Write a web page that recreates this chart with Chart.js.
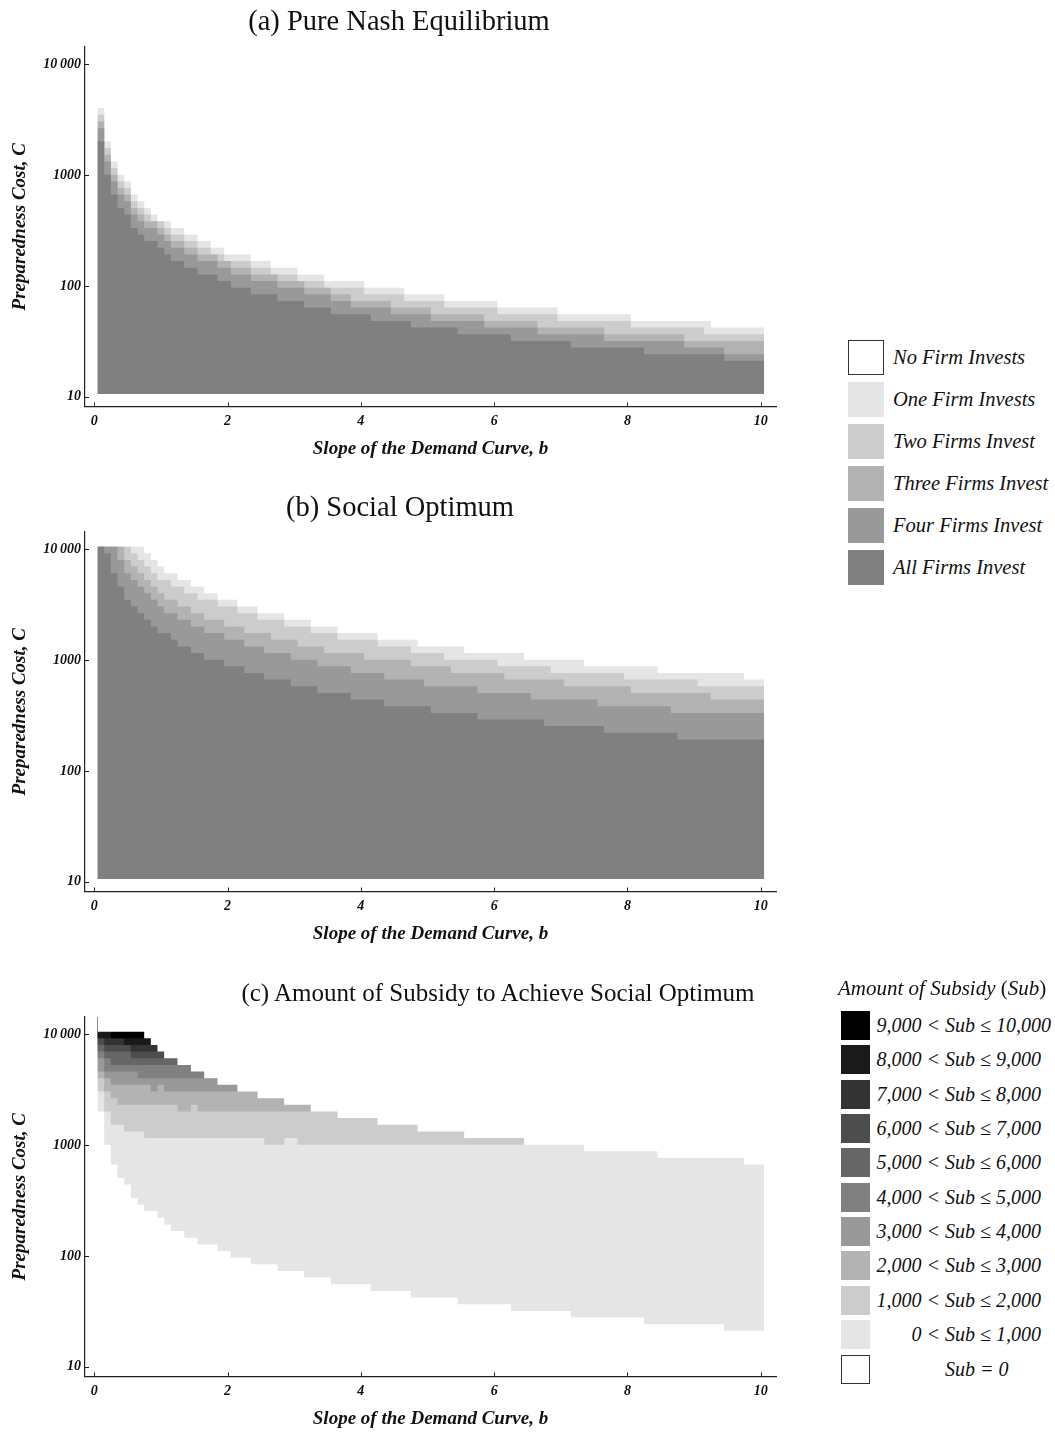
<!DOCTYPE html>
<html>
<head>
<meta charset="utf-8">
<title>Preparedness regions</title>
<script src="https://cdn.jsdelivr.net/npm/chart.js@4"></script>
<style>
  body { margin:0; padding:0; background:#fff; font-family:"Liberation Serif", serif; color:#111; }
  .page { position:relative; width:1055px; height:1433px; overflow:hidden; }
  canvas { position:absolute; left:0; }
  .title { position:absolute; white-space:nowrap; transform:translate(-50%, -50%); }
  .row { position:absolute; display:flex; align-items:center; white-space:nowrap; font-style:italic; }
  .sw { box-sizing:border-box; flex:none; }
  .up { font-style:normal; }
</style>
</head>
<body>
<div class="page" id="page">
  <canvas id="chartA" width="800" height="470" style="top:0px"></canvas>
  <canvas id="chartB" width="800" height="470" style="top:485px"></canvas>
  <canvas id="chartC" width="800" height="470" style="top:970px"></canvas>
  <div class="title" style="left:399px;top:21px;font-size:28.5px">(a) Pure Nash Equilibrium</div>
  <div class="title" style="left:400px;top:507px;font-size:28.5px">(b) Social Optimum</div>
  <div class="title" style="left:498px;top:993px;font-size:25px">(c) Amount of Subsidy to Achieve Social Optimum</div>
</div>
<script>
// axis ticks
const bTicks = [0, 2, 4, 6, 8, 10];
const cTicks = [10, 100, 1000, 10000];
const cTickLabels = ['10', '100', '1000', '10\u2009000'];
const bLast = 10;      // last slope value on the grid
const cFloor = 10.57;  // lowest preparedness cost on the grid

// legend categories
const firmLabels = ['No Firm Invests', 'One Firm Invests', 'Two Firms Invest',
  'Three Firms Invest', 'Four Firms Invest', 'All Firms Invest'];
const firmColors = ['#ffffff', '#e5e5e5', '#cccccc', '#b3b3b3', '#999999', '#808080'];
const subBins = [['9,000', '10,000'], ['8,000', '9,000'], ['7,000', '8,000'], ['6,000', '7,000'],
  ['5,000', '6,000'], ['4,000', '5,000'], ['3,000', '4,000'], ['2,000', '3,000'],
  ['1,000', '2,000'], ['0', '1,000']];
const subColors = ['#000000', '#1a1a1a', '#333333', '#4d4d4d', '#666666', '#808080',
  '#999999', '#b3b3b3', '#cccccc', '#e5e5e5'];

// upper edge of each region, as [b where the step starts, C]
// (a) pure Nash equilibrium
const nashAll = [[0.1,2014],[0.2,1009],[0.3,667],[0.4,506],[0.5,441],[0.6,334],[0.7,291],[0.8,254],[1.0,221],[1.1,192],[1.2,168],[1.4,146],[1.6,127],[1.9,111],[2.1,96.4],[2.4,84],[2.8,73.1],[3.2,63.7],[3.6,55.5],[4.2,48.3],[4.8,42.1],[5.5,36.6],[6.3,31.9],[7.2,27.8],[8.3,24.2],[9.5,21.1]];
const nashFour = [[0.1,2655],[0.2,1330],[0.3,879],[0.4,667],[0.5,581],[0.6,441],[0.7,384],[0.8,334],[1.0,291],[1.1,254],[1.2,221],[1.4,192],[1.6,168],[1.9,146],[2.1,127],[2.4,111],[2.8,96.4],[3.2,84],[3.6,73.1],[3.9,63.7],[4.5,55.5],[5.1,48.3],[5.9,42.1],[6.7,36.6],[7.7,31.9],[8.9,27.8],[9.5,24.2]];
const nashThree = [[0.1,3048],[0.2,1528],[0.3,1009],[0.4,766],[0.5,667],[0.6,506],[0.7,441],[0.8,384],[1.0,334],[1.1,291],[1.2,254],[1.4,221],[1.6,192],[1.9,168],[2.1,146],[2.4,127],[2.8,111],[3.2,96.4],[3.6,84],[3.9,73.1],[4.5,63.7],[5.1,55.5],[5.9,48.3],[6.7,42.1],[7.7,36.6],[8.9,31.9]];
const nashTwo = [[0.1,3499],[0.2,1754],[0.3,1159],[0.4,879],[0.5,766],[0.6,581],[0.7,506],[0.8,441],[0.9,384],[1.1,334],[1.2,291],[1.4,254],[1.6,221],[1.8,192],[2.0,168],[2.4,146],[2.7,127],[3.1,111],[3.5,96.4],[4.1,84],[4.7,73.1],[5.3,63.7],[6.1,55.5],[7.0,48.3],[8.1,42.1],[9.2,36.6]];
const nashOne = [[0.1,4018],[0.2,2014],[0.3,1330],[0.4,1009],[0.5,879],[0.6,667],[0.7,581],[0.8,506],[0.9,441],[1.0,384],[1.2,334],[1.4,291],[1.6,254],[1.8,221],[2.0,192],[2.4,168],[2.7,146],[3.1,127],[3.5,111],[4.1,96.4],[4.7,84],[5.3,73.1],[6.1,63.7],[7.0,55.5],[8.1,48.3],[9.3,42.1]];

// (b) social optimum
const socAll = [[0.1,10568],[0.2,9204],[0.3,6081],[0.4,4613],[0.5,3499],[0.6,3048],[0.7,2655],[0.8,2312],[0.9,2014],[1.0,1754],[1.2,1528],[1.3,1330],[1.5,1159],[1.7,1009],[2.0,879],[2.3,766],[2.6,667],[3.0,581],[3.4,506],[3.9,441],[4.4,384],[5.1,334],[5.8,291],[6.8,254],[7.7,221],[8.8,192]];
const socFour = [[0.1,10568],[0.4,8017],[0.5,6081],[0.6,5297],[0.7,4613],[0.8,4018],[0.9,3499],[1.0,3048],[1.1,2655],[1.3,2312],[1.5,2014],[1.7,1754],[2.0,1528],[2.3,1330],[2.6,1159],[3.0,1009],[3.4,879],[3.9,766],[4.4,667],[5.0,581],[5.8,506],[6.6,441],[7.6,384],[8.7,334]];
const socThree = [[0.1,10568],[0.5,8017],[0.6,6982],[0.7,6081],[0.8,5297],[0.9,4613],[1.0,4018],[1.1,3499],[1.3,3048],[1.5,2655],[1.7,2312],[2.0,2014],[2.3,1754],[2.7,1528],[3.1,1330],[3.5,1159],[4.1,1009],[4.8,879],[5.4,766],[6.2,667],[7.1,581],[8.1,506],[9.3,441]];
const socTwo = [[0.1,10568],[0.6,9204],[0.7,8017],[0.8,6982],[0.9,6081],[1.0,5297],[1.2,4613],[1.4,4018],[1.6,3499],[1.9,3048],[2.2,2655],[2.5,2312],[2.9,2014],[3.3,1754],[3.7,1528],[4.3,1330],[4.8,1159],[5.3,1009],[6.1,879],[6.9,766],[8.0,667],[9.1,581]];
const socOne = [[0.1,10568],[0.8,9204],[0.9,8017],[1.0,6982],[1.1,6081],[1.3,5297],[1.5,4613],[1.7,4018],[1.9,3499],[2.2,3048],[2.5,2655],[2.9,2312],[3.3,2014],[3.7,1754],[4.3,1528],[4.9,1330],[5.6,1159],[6.5,1009],[7.4,879],[8.5,766],[9.8,667]];

// (c) lower edge of each subsidy band (null = band ends)
const subOver1000 = [[0.1,3048],[0.2,2014],[0.3,1528],[0.5,1330],[0.8,1159],[2.6,1009],[2.9,1159],[3.1,1009],[6.5,null]];
const subOver2000 = [[0.1,4018],[0.2,3048],[0.3,2655],[0.4,2312],[1.3,2014],[1.5,2312],[1.6,2014],[3.3,null]];
const subOver3000 = [[0.1,4613],[0.2,4018],[0.3,3499],[0.9,3048],[1.0,3499],[1.1,3048],[2.2,null]];
const subOver4000 = [[0.1,6081],[0.2,4613],[0.7,4018],[1.9,null]];
const subOver5000 = [[0.1,6982],[0.2,6081],[0.3,5297],[1.3,null]];
const subOver6000 = [[0.1,8017],[0.2,6982],[0.6,6081],[1.1,null]];
const subOver7000 = [[0.1,9204],[0.2,8017],[0.6,6982],[1.0,null]];
const subOver8000 = [[0.1,9204],[0.5,8017],[0.9,null]];
const subOver9000 = [[0.3,9204],[0.8,null]];

// turn step runs into points for a stepped line (cell edges are half a step away)
function steps(runs) {
  const pts = [];
  let last = null;
  for (const [b, c] of runs) {
    if (c === null) { pts.push({x: b - 0.05, y: last}); return pts; }
    pts.push({x: b - 0.05, y: c});
    last = c;
  }
  pts.push({x: bLast + 0.05, y: last});
  return pts;
}

function layer(runs, color, fill) {
  return {
    data: steps(runs), stepped: true, fill: fill,
    backgroundColor: color, borderColor: 'rgba(0,0,0,0)', borderWidth: 0,
    pointRadius: 0, pointHoverRadius: 0
  };
}

const innerTicks = {
  id: 'innerTicks',
  afterDraw(chart) {
    const {ctx, chartArea: a, scales: {x, y}} = chart;
    ctx.save();
    ctx.strokeStyle = '#222';
    ctx.lineWidth = 1;
    ctx.beginPath();
    x.ticks.forEach(t => {
      const px = Math.round(x.getPixelForValue(t.value)) + 0.5;
      ctx.moveTo(px, a.bottom); ctx.lineTo(px, a.bottom - 4);
    });
    y.ticks.forEach(t => {
      const py = Math.round(y.getPixelForValue(t.value)) + 0.5;
      ctx.moveTo(a.left, py); ctx.lineTo(a.left + 4, py);
    });
    ctx.stroke();
    ctx.restore();
  }
};

const tickFont = {family: 'Liberation Serif', size: 14, weight: 'bold', style: 'italic'};
const axisFont = {family: 'Liberation Serif', size: 19, weight: 'bold', style: 'italic'};

function makeChart(id, datasets) {
  return new Chart(document.getElementById(id), {
    type: 'line',
    data: {datasets},
    options: {
      responsive: false, animation: false, devicePixelRatio: 1, events: [],
      layout: {padding: {top: 47, right: 24, left: 0, bottom: 0}, autoPadding: false},
      plugins: {legend: {display: false}, tooltip: {enabled: false}},
      scales: {
        x: {
          type: 'linear', min: -0.138, max: 10.228,
          afterFit: s => { s.height = 63.5; },
          afterBuildTicks: s => { s.ticks = bTicks.map(v => ({value: v})); },
          grid: {display: false, drawTicks: false},
          border: {display: true, color: '#222', width: 1.2},
          ticks: {color: '#111', font: tickFont, padding: 6, maxRotation: 0, callback: v => String(v)},
          title: {display: true, text: 'Slope of the Demand Curve, b', color: '#111', font: axisFont, padding: {top: 0, bottom: 9.6}}
        },
        y: {
          type: 'logarithmic', min: 8.16, max: 14330,
          afterFit: s => { s.width = 85; },
          afterBuildTicks: s => { s.ticks = cTicks.map(v => ({value: v})); },
          grid: {display: false, drawTicks: false},
          border: {display: true, color: '#222', width: 1.2},
          ticks: {color: '#111', font: tickFont, padding: 4, callback: v => cTickLabels[cTicks.indexOf(v)]},
          title: {display: true, text: 'Preparedness Cost, C', color: '#111', font: axisFont, padding: {top: 9, bottom: 0}}
        }
      }
    },
    plugins: [innerTicks]
  });
}

const base = {value: cFloor};
makeChart('chartA', [
  layer(nashAll, firmColors[5], base), layer(nashFour, firmColors[4], base),
  layer(nashThree, firmColors[3], base), layer(nashTwo, firmColors[2], base),
  layer(nashOne, firmColors[1], base)
]);
makeChart('chartB', [
  layer(socAll, firmColors[5], base), layer(socFour, firmColors[4], base),
  layer(socThree, firmColors[3], base), layer(socTwo, firmColors[2], base),
  layer(socOne, firmColors[1], base)
]);
makeChart('chartC', [
  layer(socOne, '#ffffff', 'end'),
  layer(subOver9000, subColors[0], 'end'), layer(subOver8000, subColors[1], 'end'),
  layer(subOver7000, subColors[2], 'end'), layer(subOver6000, subColors[3], 'end'),
  layer(subOver5000, subColors[4], 'end'), layer(subOver4000, subColors[5], 'end'),
  layer(subOver3000, subColors[6], 'end'), layer(subOver2000, subColors[7], 'end'),
  layer(subOver1000, subColors[8], 'end'), layer(nashAll, subColors[9], 'end')
]);

// legends
const page = document.getElementById('page');
firmLabels.forEach((lab, i) => {
  const row = document.createElement('div');
  row.className = 'row';
  row.style.cssText = `left:848px;top:${340 + i * 41.9}px;height:35px;font-size:20.5px;`;
  const border = i === 0 ? 'border:1.2px solid #333;' : '';
  row.innerHTML = `<div class="sw" style="width:36px;height:35px;background:${firmColors[i]};${border}"></div>` +
    `<span style="margin-left:9px">${lab}</span>`;
  page.appendChild(row);
});

const subTitle = document.createElement('div');
subTitle.className = 'row';
subTitle.style.cssText = 'left:838px;top:975px;height:26px;font-size:21px;';
subTitle.innerHTML = 'Amount of Subsidy&nbsp;<span class="up">(</span>Sub<span class="up">)</span>';
page.appendChild(subTitle);

subBins.concat([null]).forEach((bin, i) => {
  const row = document.createElement('div');
  row.className = 'row';
  row.style.cssText = `left:841px;top:${1011 + i * 34.35}px;height:29px;font-size:20px;`;
  const color = bin ? subColors[i] : '#ffffff';
  const border = bin ? '' : 'border:1.2px solid #333;';
  const left = bin ? `${bin[0]} &lt;` : '';
  const right = bin ? `&le; ${bin[1]}` : '= 0';
  row.innerHTML = `<div class="sw" style="width:29px;height:29px;background:${color};${border}"></div>` +
    `<span style="display:inline-block;width:68px;margin-left:2px;text-align:right">${left}</span>` +
    `<span style="margin-left:5px">Sub ${right}</span>`;
  page.appendChild(row);
});
</script>
</body>
</html>
